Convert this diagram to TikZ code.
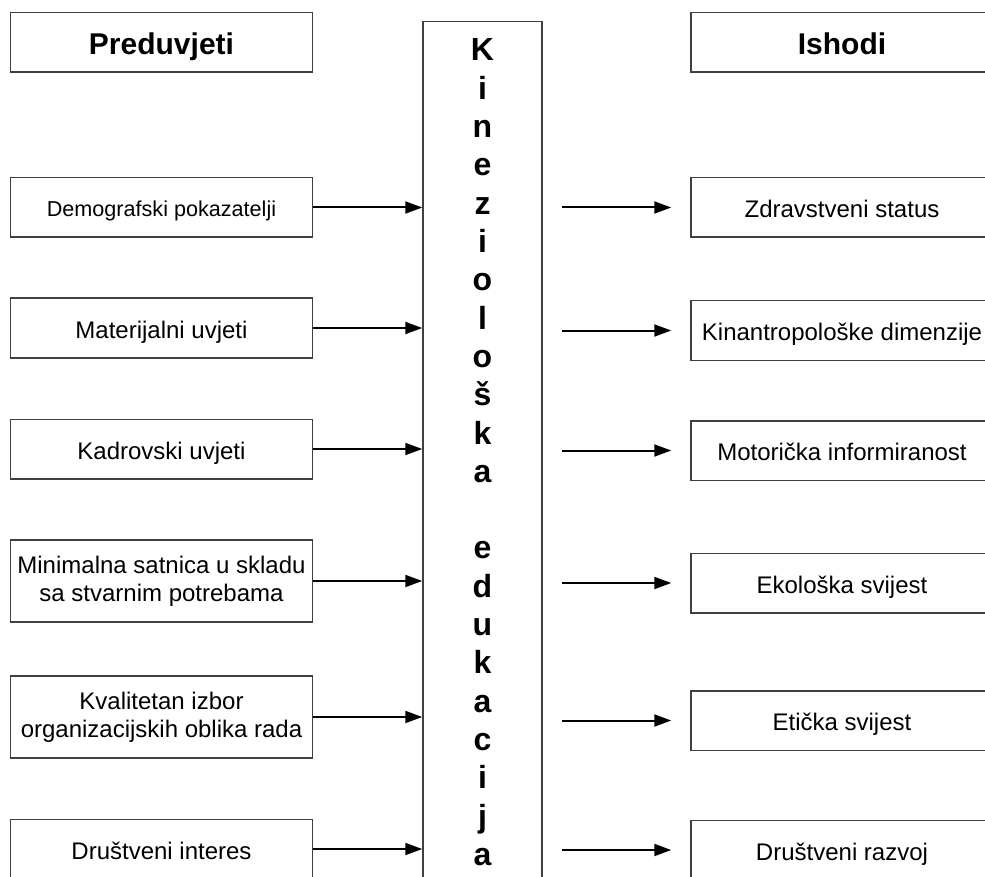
\documentclass[tikz,border=0pt]{standalone}
\usepackage{fontspec}
\setmainfont{Liberation Sans}
\usetikzlibrary{arrows.meta}
\tikzset{
  okvir/.style={draw=black!75,line width=0.75pt,minimum width=151pt,minimum height=29.75pt,inner sep=0pt,align=center,font=\fontsize{12}{13.8}\selectfont},
  jedan/.style={okvir,text height=10pt,text depth=0pt},
  dva/.style={okvir,minimum height=41pt},
  naslov/.style={okvir,text height=12pt,text depth=0pt,font=\fontsize{15}{17}\selectfont\bfseries},
  sitno/.style={okvir,text height=9pt,text depth=0pt,font=\fontsize{10.8}{12.4}\selectfont},
  strelica/.style={-{Triangle[length=8.5pt,width=6pt]},line width=1pt},
  slovo/.style={anchor=base,inner sep=0pt,font=\fontsize{16}{18}\selectfont\bfseries}
}
\begin{document}
\begin{tikzpicture}[x=0.5pt,y=-0.5pt]
\useasboundingbox (0,0) rectangle (985,877);
\clip (0,0) rectangle (985,877);
% zaglavlja
\node[naslov] (pre) at (161.5,42.5) {Preduvjeti};
\node[naslov] (ish) at (842,42.5) {Ishodi};
% srednji stupac
\node[draw=black!75,line width=0.75pt,minimum width=59.5pt,minimum height=450pt,inner sep=0pt,anchor=north] (edu) at (482.5,21) {};
\foreach \s [count=\i from 0] in {K,i,n,e,z,i,o,l,o,š,k,a,{},e,d,u,k,a,c,i,j,a}
  \node[slovo] (s\i) at (482.5,{61+38.3*\i}) {\s};
% preduvjeti
\foreach \n/\y/\st/\t in {dem/207.5/sitno/{Demografski pokazatelji},
    mat/328/jedan/{Materijalni uvjeti},
    kad/449/jedan/{Kadrovski uvjeti},
    sat/581/dva/{Minimalna satnica u skladu\\sa stvarnim potrebama},
    kva/717/dva/{Kvalitetan izbor\\organizacijskih oblika rada},
    int/849/jedan/{Društveni interes}}
{
  \node[\st] (\n) at (161.5,\y) {\t};
  \draw[strelica] (\n.east) -- (\n.east -| edu.west);
}
% ishodi
\foreach \n/\y/\t in {zdr/207.5/{Zdravstveni status},
    kin/330.5/{Kinantropološke dimenzije},
    mot/450.5/{Motorička informiranost},
    eko/583/{Ekološka svijest},
    eti/720.5/{Etička svijest},
    raz/850/{Društveni razvoj}}
{
  \node[jedan] (\n) at (842,\y) {\t};
  \draw[strelica,shorten <=9.5pt,shorten >=9.5pt] (edu.east |- \n.west) -- (\n.west);
}
\end{tikzpicture}
\end{document}
